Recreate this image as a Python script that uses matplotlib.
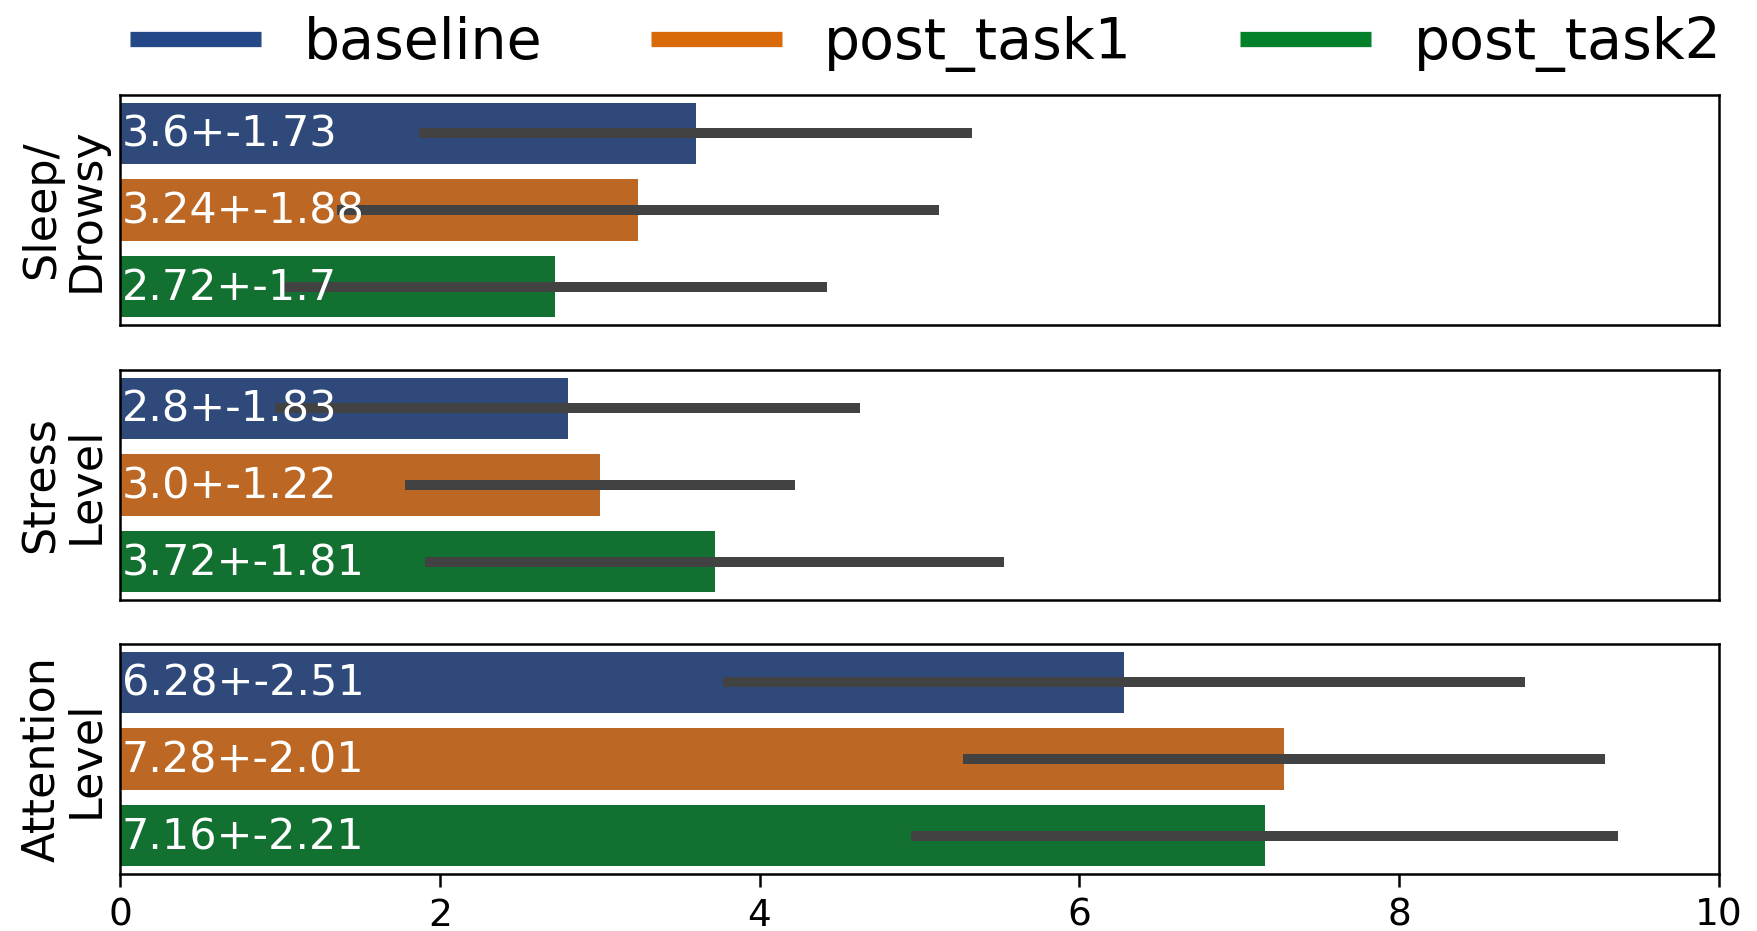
import matplotlib
matplotlib.use("Agg")
import matplotlib.pyplot as plt
from matplotlib.lines import Line2D
import numpy as np

conditions = ["baseline", "post_task1", "post_task2"]
metrics = ["Sleep/\nDrowsy", "Stress\nLevel", "Attention\nLevel"]
means = {
    "Sleep/\nDrowsy": [3.6, 3.24, 2.72],
    "Stress\nLevel": [2.8, 3.0, 3.72],
    "Attention\nLevel": [6.28, 7.28, 7.16],
}
stds = {
    "Sleep/\nDrowsy": [1.73, 1.88, 1.7],
    "Stress\nLevel": [1.83, 1.22, 1.81],
    "Attention\nLevel": [2.51, 2.01, 2.21],
}
xticks = [0, 2, 4, 6, 8, 10]

legend_colors = ["#234787", "#d86a0a", "#02802a"]
bar_colors = ["#2f4a7a", "#bc6824", "#127030"]
err_color = "#424242"

fig = plt.figure(figsize=(17.57, 9.31), dpi=100)
left, width = 0.0683, 0.9100
bottoms = [0.651, 0.3555, 0.0612]
height = 0.247

for i, m in enumerate(metrics):
    ax = fig.add_axes([left, bottoms[i], width, height])
    ypos = np.arange(len(conditions))
    ax.barh(ypos, means[m], height=0.8, color=bar_colors, zorder=1)
    for y, mu, sd in zip(ypos, means[m], stds[m]):
        ax.plot([mu - sd, mu + sd], [y, y], color=err_color, lw=7.2,
                solid_capstyle="butt", zorder=2)
        ax.text(0.01, y + 0.02, f"{mu}+-{sd}", color="white", fontsize=31,
                ha="left", va="center", zorder=3)
    ax.set_ylim(2.5, -0.5)
    ax.set_xlim(0, 10)
    ax.set_yticks([])
    ax.set_ylabel(m, fontsize=32, labelpad=9, linespacing=1.05)
    for s in ax.spines.values():
        s.set_linewidth(1.8)
        s.set_color("black")
    if i < 2:
        ax.set_xticks([])
    else:
        ax.set_xticks(xticks)
        ax.set_xticklabels([str(t) for t in xticks])
        ax.tick_params(axis="x", labelsize=27, length=9, width=1.8, pad=8)

handles = [Line2D([0], [0], color=c, lw=11, solid_capstyle="butt") for c in legend_colors]
fig.legend(handles, conditions, loc="center", bbox_to_anchor=(0.527, 0.953),
           ncol=3, frameon=False, fontsize=41, handlelength=2.3,
           handletextpad=0.75, columnspacing=1.9, borderaxespad=0)

fig.savefig("out.png", dpi=100)
